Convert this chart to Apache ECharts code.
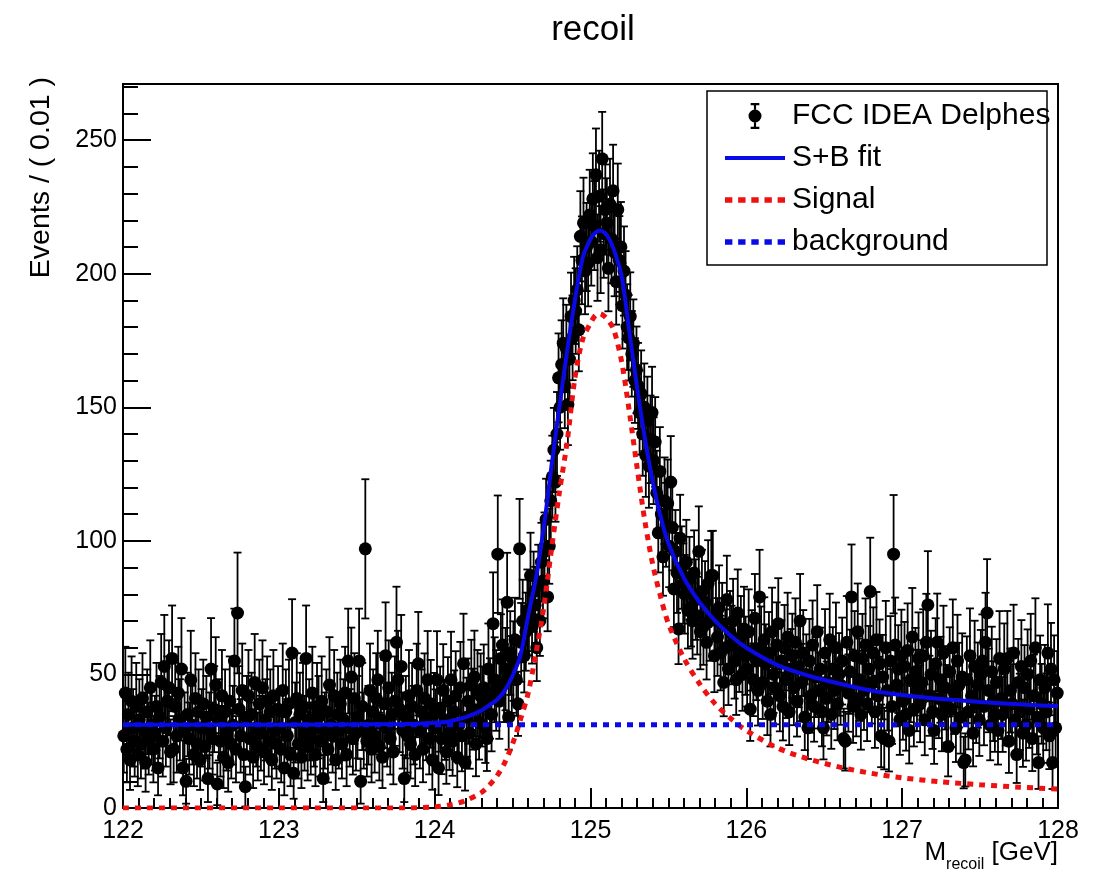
<!DOCTYPE html>
<html>
<head>
<meta charset="utf-8">
<title>recoil</title>
<script src="https://cdn.jsdelivr.net/npm/echarts@6/dist/echarts.min.js"></script>
<style>
  html, body { margin: 0; padding: 0; background: #fff; }
  #chart { width: 1093px; height: 895px; }
</style>
</head>
<body>
<div id="chart"></div>
<script>
// recoil mass histogram: 600 bins of 0.01 GeV starting at 122 GeV
const binStart = 122
const binWidth = 0.01
const counts = [
  27, 43, 22, 35, 18, 40, 30, 25, 38, 20,
  33, 24, 41, 29, 17, 36, 26, 45, 31, 22,
  28, 38, 15, 34, 47, 25, 53, 30, 40, 45,
  21, 56, 22, 38, 27, 43, 33, 52, 15, 29,
  10, 35, 26, 48, 31, 20, 41, 24, 36, 18,
  30, 39, 23, 34, 11, 29, 52, 26, 37, 46,
  9, 33, 25, 42, 19, 36, 28, 17, 40, 24,
  31, 55, 22, 73, 37, 27, 44, 20, 8, 34,
  42, 26, 35, 19, 47, 30, 23, 39, 28, 45,
  21, 33, 40, 25, 36, 18, 42, 29, 24, 37,
  30, 22, 44, 15, 36, 27, 39, 20, 58, 13,
  32, 41, 24, 35, 19, 38, 28, 56, 23, 33,
  26, 43, 30, 20, 38, 34, 25, 40, 11, 29,
  36, 22, 46, 31, 27, 42, 18, 35, 29, 39,
  24, 33, 43, 20, 55, 30, 49, 26, 41, 28,
  34, 55, 10, 38, 29, 97, 25, 31, 44, 22,
  36, 27, 41, 48, 23, 33, 19, 39, 57, 30,
  45, 26, 35, 21, 40, 62, 48, 37, 53, 29,
  11, 34, 27, 42, 24, 38, 31, 20, 44, 54,
  29, 36, 22, 41, 33, 48, 26, 39, 18, 35,
  30, 48, 15, 37, 26, 44, 33, 21, 40, 28,
  48, 25, 36, 42, 19, 31, 45, 27, 54, 17,
  34, 40, 28, 46, 37, 49, 24, 43, 32, 42,
  38, 45, 30, 26, 52, 41, 35, 69, 48, 44,
  95, 40, 56, 61, 47, 52, 77, 34, 58, 50,
  55, 63, 48, 39, 97, 62, 70, 57, 66, 74,
  72, 87, 68, 81, 76, 60, 84, 70, 92, 85,
  96, 108, 79, 98, 115, 124, 134, 122, 140, 161,
  150, 166, 174, 158, 172, 151, 168, 184, 176, 190,
  186, 194, 179, 214, 205, 219, 201, 210, 204, 222,
  212, 228, 218, 237, 206, 229, 209, 243, 215, 224,
  219, 202, 226, 213, 231, 208, 197, 224, 205, 210,
  188, 201, 192, 180, 176, 184, 170, 174, 160, 164,
  158, 148, 155, 140, 150, 132, 145, 128, 138, 148,
  130, 137, 118, 103, 126, 110, 94, 115, 106, 114,
  98, 122, 105, 82, 96, 88, 67, 101, 90, 84,
  80, 92, 74, 86, 75, 70, 88, 78, 72, 96,
  66, 81, 68, 77, 62, 84, 70, 87, 87, 57,
  72, 64, 75, 58, 69, 47, 60, 78, 52, 66,
  61, 70, 55, 48, 73, 58, 64, 50, 67, 57,
  52, 66, 37, 59, 48, 71, 55, 44, 79, 60,
  47, 63, 54, 40, 58, 35, 66, 50, 45, 61,
  69, 42, 55, 38, 60, 48, 64, 36, 52, 57,
  45, 62, 40, 53, 70, 47, 58, 34, 50, 30,
  55, 42, 61, 38, 49, 66, 44, 52, 36, 30,
  58, 41, 47, 63, 35, 52, 44, 60, 39, 50,
  46, 55, 26, 25, 62, 43, 51, 79, 38, 57,
  41, 66, 48, 35, 56, 44, 61, 39, 52, 81,
  47, 58, 36, 63, 42, 54, 27, 49, 26, 60,
  44, 25, 55, 38, 95, 61, 46, 52, 33, 57,
  40, 53, 35, 59, 29, 48, 64, 37, 51, 44,
  56, 39, 47, 57, 33, 62, 76, 42, 50, 36,
  29, 54, 62, 41, 48, 35, 58, 45, 39, 23,
  51, 37, 60, 43, 30, 55, 46, 34, 49, 17,
  18, 48, 36, 57, 42, 28, 53, 39, 46, 33,
  50, 55, 38, 62, 73, 44, 31, 51, 40, 35,
  47, 29, 56, 41, 35, 52, 38, 56, 25, 44,
  39, 58, 33, 20, 47, 36, 53, 28, 45, 31,
  50, 37, 55, 26, 42, 60, 34, 17, 48, 39,
  30, 45, 36, 58, 27, 52, 17, 48, 30, 43
]

// fit curves
const fitX = [122, 123, 123.8, 124, 124.1, 124.2, 124.3, 124.35, 124.4, 124.45,
  124.5, 124.55, 124.6, 124.65, 124.7, 124.75, 124.8, 124.85, 124.9, 124.95,
  125, 125.03, 125.06, 125.09, 125.12, 125.15, 125.2, 125.25, 125.3, 125.35,
  125.4, 125.45, 125.5, 125.6, 125.7, 125.8, 125.9, 126, 126.2, 126.4,
  126.6, 126.8, 127, 127.25, 127.5, 127.75, 128]
const sbFit = [31.2, 31.2, 31.4, 31.9, 32.5, 34, 36.5, 38.5, 40.5, 44,
  49.5, 57, 72, 86, 105, 128, 150, 171, 190, 206,
  213, 215.3, 216.2, 215.3, 213, 209, 199, 178, 157, 138,
  122, 109, 99, 86, 77, 70, 64.5, 60, 53.5, 49.5,
  46.5, 44, 42.3, 40.8, 39.7, 38.8, 38.1]
const signalFit = [0, 0, 0, 0.4, 1.2, 2.8, 5.8, 8.5, 12, 17,
  24, 33, 43, 58, 75, 97, 118, 137, 161, 175.5,
  181.5, 184.3, 185, 184, 182, 179, 167, 148, 127, 107,
  91, 79, 69, 56, 46.5, 39, 33.5, 29, 22.5, 18.3,
  15.3, 13, 11.3, 9.8, 8.7, 7.8, 7.1]
const bkgX = [122, 128]
const bkgFit = [31.2, 31.2]

const xTicks = [122, 123, 124, 125, 126, 127, 128]
const yTicks = [0, 50, 100, 150, 200, 250]
const yTop = 271

// event weights, judged from the error bar lengths
const bkgWeight = 7.0
const sigWeight = 0.3

const font = "'Liberation Sans', Arial, Helvetica, sans-serif"
const blue = '#0a0ae6'
const red = '#ee1111'

function interp(xs, ys, x) {
  if (x <= xs[0]) return ys[0]
  for (let i = 1; i < xs.length; i++) {
    if (x <= xs[i]) {
      const t = (x - xs[i - 1]) / (xs[i] - xs[i - 1])
      return ys[i - 1] + t * (ys[i] - ys[i - 1])
    }
  }
  return ys[ys.length - 1]
}

function binError(x, v) {
  const s = interp(fitX, signalFit, x)
  const b = bkgFit[0]
  const fb = b / (s + b)
  return Math.sqrt(v * (bkgWeight * fb + sigWeight * (1 - fb)))
}

const points = counts.map((v, i) => [binStart + (i + 0.5) * binWidth, v])
const errors = points.map(p => [p[0], p[1], binError(p[0], p[1])])

function renderErrorBar(params, api) {
  const x = api.value(0)
  const y = api.value(1)
  const e = api.value(2)
  const hi = api.coord([x, y + e])
  const lo = api.coord([x, y - e])
  const cap = 4
  const style = { stroke: '#000', lineWidth: 1.8 }
  return {
    type: 'group',
    children: [
      { type: 'line', shape: { x1: hi[0], y1: hi[1], x2: lo[0], y2: lo[1] }, style },
      { type: 'line', shape: { x1: hi[0] - cap, y1: hi[1], x2: hi[0] + cap, y2: hi[1] }, style },
      { type: 'line', shape: { x1: lo[0] - cap, y1: lo[1], x2: lo[0] + cap, y2: lo[1] }, style }
    ]
  }
}

// legend glyphs in the ROOT style
const dataIcon = 'path://M2,12a6,6 0 1,0 12,0a6,6 0 1,0 -12,0Z' +
  'M7,2L9,2L9,6L7,6Z M7,18L9,18L9,22L7,22Z M4,0L12,0L12,2L4,2Z M4,22L12,22L12,24L4,24Z'
const solidIcon = 'path://M0,0L60,0L60,4L0,4Z'
const dottedIcon = 'path://M0,0h7v5h-7Z M12.5,0h7v5h-7Z M25,0h7v5h-7Z M37.5,0h7v5h-7Z M50,0h7v5h-7Z'

const chart = echarts.init(document.getElementById('chart'))

chart.setOption({
  backgroundColor: '#fff',
  animation: false,
  title: {
    text: 'recoil',
    left: 588,
    top: 8,
    textAlign: 'center',
    textStyle: { fontFamily: font, fontSize: 35, fontWeight: 'normal', color: '#000' }
  },
  grid: {
    left: 123,
    right: 35,
    top: 84,
    bottom: 87,
    show: true,
    borderColor: '#000',
    borderWidth: 2,
    backgroundColor: 'transparent'
  },
  legend: {
    orient: 'vertical',
    left: 720,
    top: 95,
    itemWidth: 60,
    itemHeight: 26,
    itemGap: 10,
    selectedMode: false,
    textStyle: { fontFamily: font, fontSize: 30, color: '#000', lineHeight: 32, padding: [0, 0, 0, 2] },
    data: [
      { name: 'FCC IDEA Delphes', icon: dataIcon, itemStyle: { color: '#000' } },
      { name: 'S+B fit', icon: solidIcon },
      { name: 'Signal', icon: dottedIcon },
      { name: 'background', icon: dottedIcon }
    ]
  },
  xAxis: {
    type: 'value',
    min: xTicks[0],
    max: xTicks[xTicks.length - 1],
    interval: xTicks[1] - xTicks[0],
    axisLine: { lineStyle: { color: '#000', width: 2 } },
    axisTick: { inside: true, length: 20, lineStyle: { color: '#000', width: 2 } },
    minorTick: { show: true, splitNumber: 10, length: 10, lineStyle: { color: '#000', width: 2 } },
    splitLine: { show: false },
    axisLabel: { fontFamily: font, fontSize: 25, color: '#000', margin: 11 }
  },
  yAxis: {
    type: 'value',
    min: yTicks[0],
    max: yTop,
    interval: yTicks[1] - yTicks[0],
    axisLine: { lineStyle: { color: '#000', width: 2 } },
    axisTick: { inside: true, length: 28, lineStyle: { color: '#000', width: 2 } },
    minorTick: { show: true, splitNumber: 5, length: 15, lineStyle: { color: '#000', width: 2 } },
    splitLine: { show: false },
    axisLabel: { fontFamily: font, fontSize: 25, color: '#000', margin: 6, showMaxLabel: false }
  },
  graphic: [
    {
      type: 'rect',
      shape: { x: 707, y: 91, width: 340, height: 174 },
      style: { fill: 'none', stroke: '#000', lineWidth: 1.5 },
      z: 10
    },
    {
      type: 'text',
      x: 41,
      y: 77,
      rotation: Math.PI / 2,
      style: {
        text: 'Events / ( 0.01 )',
        fontFamily: font,
        fontSize: 28.5,
        fill: '#000',
        align: 'right',
        verticalAlign: 'middle'
      }
    },
    {
      type: 'text',
      right: 35,
      top: 840,
      style: {
        text: '{m|M}{s|recoil}{m| [GeV]}',
        fontFamily: font,
        fill: '#000',
        rich: {
          m: { fontFamily: font, fontSize: 26, fill: '#000', padding: [0, 0, 7, 0], verticalAlign: 'bottom' },
          s: { fontFamily: font, fontSize: 16, fill: '#000', verticalAlign: 'bottom' }
        }
      }
    }
  ],
  series: [
    {
      name: 'errors',
      type: 'custom',
      renderItem: renderErrorBar,
      data: errors,
      clip: true,
      silent: true,
      z: 2
    },
    {
      name: 'FCC IDEA Delphes',
      type: 'scatter',
      data: points,
      symbol: 'circle',
      symbolSize: 13,
      itemStyle: { color: '#000', opacity: 1 },
      clip: true,
      z: 3
    },
    {
      name: 'S+B fit',
      type: 'line',
      data: fitX.map((x, i) => [x, sbFit[i]]),
      smooth: 0.3,
      symbol: 'none',
      lineStyle: { color: blue, width: 4 },
      itemStyle: { color: blue },
      z: 5
    },
    {
      name: 'Signal',
      type: 'line',
      data: fitX.map((x, i) => [x, signalFit[i]]),
      smooth: 0.3,
      symbol: 'none',
      lineStyle: { color: red, width: 5, type: [6, 6] },
      itemStyle: { color: red },
      z: 4
    },
    {
      name: 'background',
      type: 'line',
      data: bkgX.map((x, i) => [x, bkgFit[i]]),
      symbol: 'none',
      lineStyle: { color: blue, width: 5, type: [6, 6] },
      itemStyle: { color: blue },
      z: 4
    }
  ]
})
</script>
</body>
</html>
